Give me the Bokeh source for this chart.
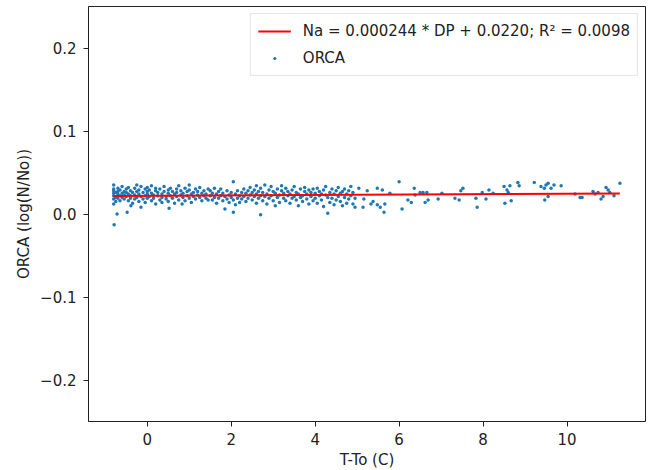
from bokeh.plotting import figure
from bokeh.models import FixedTicker, CustomJSTickFormatter, Legend, LegendItem, Range1d
from bokeh.embed import file_html
from bokeh.resources import INLINE

# ---- data ----
orca_x = [
    -0.80, -0.80, -0.80, -0.80, -0.80, -0.79, -0.80, -0.80,
    -0.75, -0.75, -0.75, -0.72, -0.70, -0.70, -0.70, -0.70,
    -0.65, -0.65, -0.65, -0.60, -0.60, -0.60, -0.55, -0.55, -0.55, -0.48,
    -0.50, -0.50, -0.50, -0.45, -0.45, -0.45, -0.40, -0.40, -0.40,
    -0.35, -0.35, -0.39, -0.30, -0.30, -0.30, -0.25, -0.25, -0.25,
    -0.20, -0.20, -0.20, -0.15, -0.15, -0.15, -0.10, -0.10,
    -0.05, -0.05, -0.05, 0.00, 0.00, 0.00, 0.00,
    0.05, 0.05, 0.10, 0.10, 0.10, 0.15, 0.15, 0.20, 0.20, 0.20,
    0.25, 0.25, 0.30, 0.30, 0.35, 0.35, 0.35, 0.40, 0.40, 0.45, 0.45,
    0.50, 0.50, 0.50, 0.52, 0.55, 0.55, 0.60, 0.60, 0.65, 0.65,
    0.70, 0.70, 0.70, 0.75, 0.75, 0.80, 0.80, 0.83, 0.85, 0.85,
    0.90, 0.90, 0.95, 0.95, 1.00, 1.00, 1.00, 1.05, 1.05, 1.10, 1.10,
    1.15, 1.15, 1.20, 1.20, 1.25, 1.25, 1.30, 1.30, 1.35, 1.35,
    1.40, 1.40, 1.45, 1.45,
    1.50, 1.50, 1.55, 1.55, 1.60, 1.60, 1.65, 1.65, 1.70, 1.70,
    1.75, 1.75, 1.80, 1.80, 1.85, 1.85, 1.90, 1.90, 1.95, 1.95,
    2.00, 2.00, 2.05, 2.05, 2.05, 2.10, 2.10, 2.15, 2.15, 2.20, 2.20,
    2.25, 2.25, 2.30, 2.30, 2.35, 2.35, 2.40, 2.40, 2.45, 2.45,
    2.50, 2.50, 2.55, 2.55, 2.60, 2.60, 2.60, 2.65, 2.65,
    2.70, 2.70, 2.70, 2.75, 2.75, 2.80, 2.80, 2.85, 2.85, 2.90, 2.90,
    2.95, 2.95, 3.00, 3.00, 3.05, 3.05, 3.10, 3.10, 3.15, 3.15,
    3.20, 3.20, 3.25, 3.25, 3.30, 3.30, 3.35, 3.35, 3.40, 3.40,
    3.45, 3.45, 3.50, 3.50, 3.55, 3.55, 3.60, 3.60, 3.65, 3.65,
    3.70, 3.70, 3.75, 3.75, 3.80, 3.80, 3.85, 3.85, 3.90, 3.90,
    3.95, 3.95, 4.00, 4.00, 4.05, 4.05, 4.10, 4.10, 4.15, 4.15,
    4.20, 4.20, 4.25, 4.25, 4.30, 4.30, 4.35, 4.35, 4.40, 4.40,
    4.45, 4.45, 4.50, 4.50, 4.55, 4.55, 4.60, 4.60, 4.65, 4.65,
    4.70, 4.70, 4.75, 4.75, 4.80, 4.80, 4.85, 4.85, 4.90, 4.90,
    4.95, 4.95,
    5.04, 5.24, 5.48, 5.60, 5.16, 5.14, 5.33, 5.38, 5.48, 5.55,
    5.66, 5.64, 5.78, 6.00, 6.07, 6.21, 6.29, 6.36, 6.38, 6.50,
    6.57, 6.66, 6.62, 6.69, 6.93, 7.02, 7.33, 7.43, 7.47, 7.52,
    7.83, 7.86, 7.98, 8.07, 8.14, 8.24,
    8.50, 8.57, 8.64, 8.60, 8.52, 8.67, 8.83, 8.86, 9.22, 9.38,
    9.46, 9.50, 9.55, 9.62, 9.69, 9.55, 9.47, 9.86, 10.19, 10.31,
    10.36, 10.62, 10.67, 10.74, 10.81, 10.86, 10.93, 10.98, 11.02, 11.12,
    11.26,
]
orca_y = [
    0.035, 0.028, 0.022, 0.018, 0.012, -0.013, 0.025, 0.030,
    0.020, 0.026, 0.015, 0.000, 0.031, 0.024, 0.019, 0.027,
    0.022, 0.029, 0.016, 0.025, 0.033, 0.020, 0.018, 0.027, 0.023, 0.002,
    0.030, 0.021, 0.026, 0.024, 0.016, 0.032, 0.028, 0.019, 0.022,
    0.026, 0.013, 0.010, 0.031, 0.023, 0.018, 0.027, 0.020, 0.035,
    0.024, 0.015, 0.029, 0.021, 0.033, 0.008, 0.026, 0.018,
    0.030, 0.022, 0.014, 0.027, 0.019, 0.024, 0.032,
    0.021, 0.029, 0.016, 0.025, 0.034, 0.023, 0.019, 0.028, 0.012, 0.031,
    0.022, 0.026, 0.017, 0.030, 0.024, 0.020, 0.014, 0.027, 0.033, 0.021, 0.018,
    0.025, 0.029, 0.015, 0.007, 0.022, 0.031, 0.019, 0.027, 0.024, 0.013,
    0.030, 0.021, 0.026, 0.017, 0.034, 0.023, 0.028, 0.012, 0.020, 0.025,
    0.031, 0.016, 0.027, 0.022, 0.019, 0.029, 0.035, 0.024, 0.014, 0.026, 0.021,
    0.030, 0.018, 0.023, 0.027, 0.020, 0.032, 0.025, 0.016, 0.028, 0.022,
    0.019, 0.024, 0.030, 0.017,
    0.022, 0.028, 0.017, 0.025, 0.031, 0.020, 0.024, 0.013, 0.027, 0.019,
    0.022, 0.030, 0.016, 0.025, 0.021, 0.006, 0.028, 0.018, 0.023, 0.014,
    0.020, 0.026, 0.039, 0.017, 0.002, 0.024, 0.011, 0.019, 0.028, 0.022, 0.014,
    0.026, 0.018, 0.021, 0.030, 0.015, 0.025, 0.028, 0.019, 0.023, 0.032,
    0.017, 0.026, 0.029, 0.021, 0.024, 0.034, 0.013, 0.019, 0.027,
    -0.001, 0.031, 0.022, 0.026, 0.016, 0.035, 0.021, 0.024, 0.012, 0.029, 0.019,
    0.022, 0.033, 0.016, 0.027, 0.025, 0.010, 0.030, 0.020, 0.023, 0.014,
    0.028, 0.034, 0.019, 0.025, 0.031, 0.016, 0.022, 0.027, 0.013, 0.024,
    0.029, 0.019, 0.033, 0.021, 0.017, 0.026, 0.024, 0.010, 0.030, 0.020,
    0.022, 0.015, 0.027, 0.032, 0.018, 0.024, 0.029, 0.012, 0.021, 0.026,
    0.016, 0.030, 0.025, 0.019, 0.031, 0.013, 0.022, 0.027, 0.017, 0.024,
    0.029, 0.009, 0.023, 0.033, 0.001, 0.020, 0.026, 0.014, 0.019, 0.030,
    0.024, 0.011, 0.028, 0.017, 0.021, 0.032, 0.015, 0.025, 0.027, 0.010,
    0.020, 0.030, 0.024, 0.013, 0.018, 0.028, 0.033, 0.022, 0.012, 0.026,
    0.019, 0.008,
    0.031, 0.028, 0.031, 0.029, 0.018, 0.008, 0.012, 0.015, 0.011, 0.008,
    0.012, 0.002, 0.025, 0.039, 0.006, 0.017, 0.014, 0.031, 0.023, 0.026,
    0.026, 0.026, 0.014, 0.017, 0.018, 0.025, 0.019, 0.017, 0.028, 0.031,
    0.019, 0.008, 0.026, 0.018, 0.029, 0.025,
    0.033, 0.029, 0.034, 0.026, 0.013, 0.016, 0.038, 0.034, 0.038, 0.033,
    0.031, 0.035, 0.037, 0.031, 0.035, 0.021, 0.017, 0.034, 0.024, 0.020,
    0.020, 0.027, 0.024, 0.026, 0.018, 0.021, 0.032, 0.029, 0.026, 0.022,
    0.037,
]

fit_slope = 0.000244
fit_intercept = 0.0220
fit_r2 = 0.0098

x_ticks = [0, 2, 4, 6, 8, 10]
y_ticks = [-0.2, -0.1, 0.0, 0.1, 0.2]

FONT = "DejaVu Sans"
FS = "15px"

p = figure(
    frame_width=557, frame_height=415,
    min_border_left=88, min_border_right=3, min_border_top=6, min_border_bottom=49,
    x_range=Range1d(-1.40, 11.87), y_range=Range1d(-0.25, 0.25),
    output_backend="svg", toolbar_location=None,
    background_fill_color="white", border_fill_color="white",
)

sc = p.scatter(orca_x, orca_y, size=3.5, color="#1f77b4", line_color=None)
fx = [min(orca_x), max(orca_x)]
fy = [fit_slope * v + fit_intercept for v in fx]
ln = p.line(fx, fy, line_color="#ff0000", line_width=2)

p.xgrid.visible = False
p.ygrid.visible = False
p.outline_line_color = "#222222"
p.outline_line_width = 1

for ax in (p.xaxis[0], p.yaxis[0]):
    ax.axis_line_color = "#222222"
    ax.major_tick_line_color = "#222222"
    ax.minor_tick_line_color = None
    ax.major_tick_in = 0
    ax.major_tick_out = 5
    ax.major_label_text_font = FONT
    ax.major_label_text_font_size = FS
    ax.major_label_text_color = "#222222"
    ax.axis_label_text_font = FONT
    ax.axis_label_text_font_size = FS
    ax.axis_label_text_font_style = "normal"
    ax.axis_label_text_color = "#222222"

p.xaxis.ticker = FixedTicker(ticks=x_ticks)
p.yaxis.ticker = FixedTicker(ticks=y_ticks)
p.xaxis.formatter = CustomJSTickFormatter(code="return tick.toFixed(0);")
p.yaxis.formatter = CustomJSTickFormatter(
    code="return tick < -1e-9 ? '\u2212' + Math.abs(tick).toFixed(1) : Math.abs(tick).toFixed(1);")
p.xaxis.axis_label = "T-To (C)"
p.yaxis.axis_label = "ORCA (log(N/No))"
p.xaxis.major_label_standoff = 6
p.yaxis.major_label_standoff = 7
p.xaxis.axis_label_standoff = 3
p.yaxis.axis_label_standoff = 4

label_fit = "Na = %.6f * DP + %.4f; R\u00b2 = %.4f" % (fit_slope, fit_intercept, fit_r2)
legend = Legend(items=[LegendItem(label=label_fit, renderers=[ln]),
                       LegendItem(label="ORCA", renderers=[sc])],
                location="top_right")
legend.label_text_font = FONT
legend.label_text_font_size = FS
legend.label_text_color = "#222222"
legend.border_line_color = "#cccccc"
legend.border_line_width = 1
legend.background_fill_alpha = 0.8
legend.glyph_width = 33
legend.glyph_height = 8
legend.label_height = 20
legend.spacing = 7
legend.padding = 7
legend.margin = 7
legend.label_standoff = 12
p.add_layout(legend)

open("out.html", "w").write(file_html(p, INLINE))
